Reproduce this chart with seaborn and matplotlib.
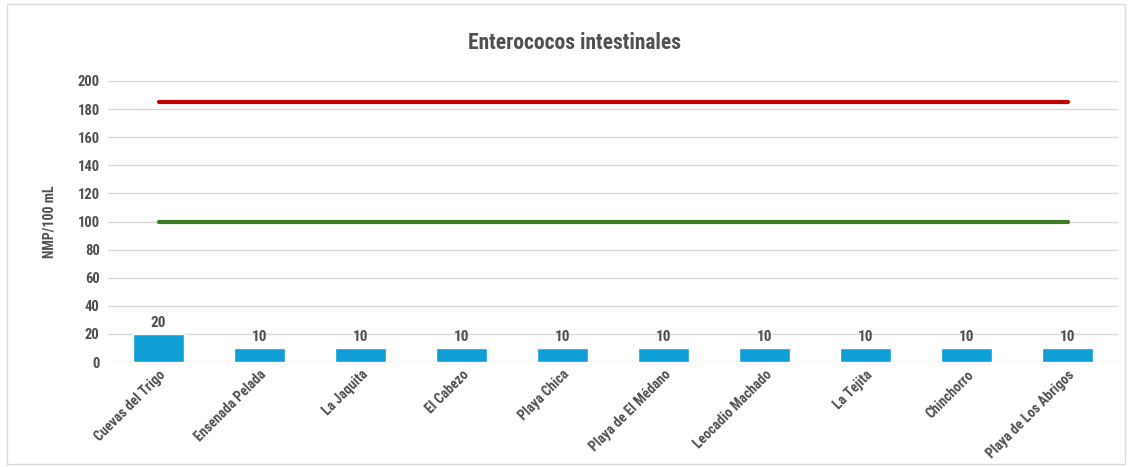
import matplotlib
matplotlib.use("Agg")
import matplotlib.pyplot as plt
import seaborn as sns
import pandas as pd
from matplotlib.patches import Rectangle

# Data
playas = ["Cuevas del Trigo", "Ensenada Pelada", "La Jaquita", "El Cabezo", "Playa Chica",
          "Playa de El Médano", "Leocadio Machado", "La Tejita", "Chinchorro", "Playa de Los Abrigos"]
valores = [20, 10, 10, 10, 10, 10, 10, 10, 10, 10]
limite_rojo = [185] * len(playas)
limite_verde = [100] * len(playas)

df = pd.DataFrame({"Playa": playas, "NMP": valores})

sns.set_theme(style="white")
plt.rcParams['font.family'] = ['Roboto Condensed', 'Roboto', 'DejaVu Sans']
txt = "#505050"

fig = plt.figure(figsize=(11.32, 4.67), dpi=100)
ax = fig.add_axes([108 / 1132, 1 - 362 / 467, 1010 / 1132, (362 - 81) / 467])

sns.barplot(data=df, x="Playa", y="NMP", color="#0f9fd6", width=0.5, saturation=1, ax=ax)
ax.plot(range(len(playas)), limite_rojo, color="#c00000", lw=3, solid_capstyle="round")
ax.plot(range(len(playas)), limite_verde, color="#3b7d23", lw=3, solid_capstyle="round")

for i, v in enumerate(valores):
    ax.text(i, v + 3, str(v), ha="center", va="bottom", fontsize=11, fontweight="bold", color=txt)

ax.set_xlim(-0.5, len(playas) - 0.5)
ax.set_ylim(0, 200)
ax.set_yticks(range(0, 201, 20))
ax.yaxis.grid(True, color="#d9d9d9", lw=1)
ax.set_axisbelow(True)
for s in ax.spines.values():
    s.set_visible(False)
ax.tick_params(axis="y", length=0, pad=6, labelsize=10.5, labelcolor=txt)
ax.tick_params(axis="x", length=0, pad=4, labelsize=10, labelcolor=txt)
for lab in ax.get_yticklabels():
    lab.set_fontweight("bold")
ax.set_xticks(range(len(playas)))
ax.set_xticklabels(playas, rotation=45, ha="right", rotation_mode="anchor", fontweight="bold")
ax.set_xlabel("")
ax.set_ylabel("NMP/100 mL", fontsize=10, fontweight="bold", color=txt, labelpad=15)

fig.text(575 / 1132, 1 - 43 / 467, "Enterococos intestinales", ha="center", va="center",
         fontsize=15.5, fontweight="bold", color=txt)

fig.patches.append(Rectangle((7 / 1132, 3 / 467), 1118 / 1132, 460 / 467, transform=fig.transFigure,
                             fill=False, edgecolor="#d9d9d9", lw=1))

fig.savefig("out.png", dpi=100)
